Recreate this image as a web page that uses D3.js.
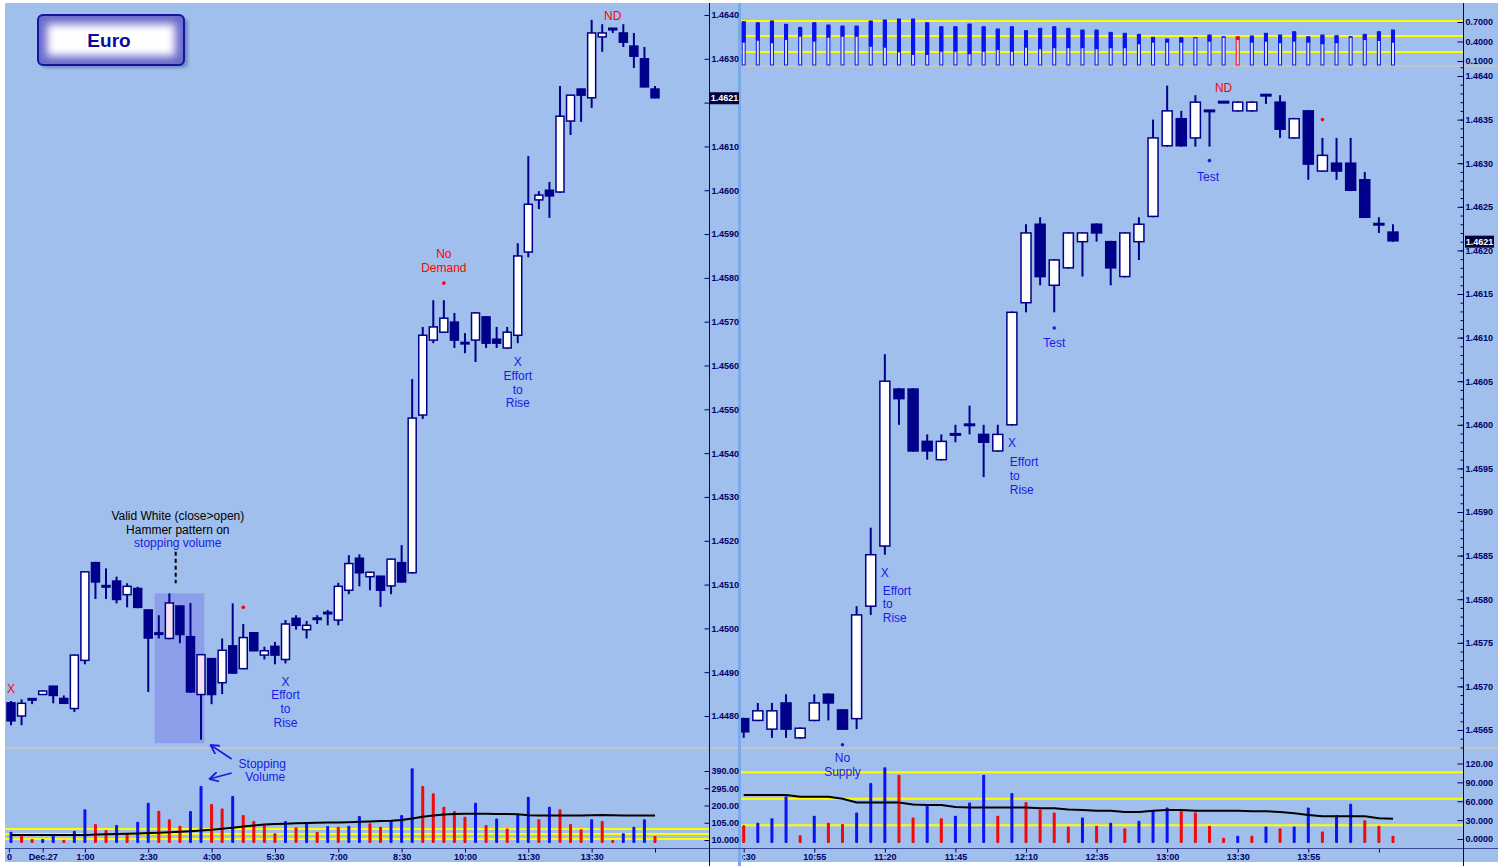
<!DOCTYPE html>
<html><head><meta charset="utf-8">
<script src="https://cdn.jsdelivr.net/npm/d3@7"></script>
<style>
body{margin:0;background:#fff}
svg{display:block}
.ax text{font-family:"Liberation Sans",Arial,sans-serif;font-weight:bold;font-size:9px;fill:#000066}
.ann{font-family:"Liberation Sans",Arial,sans-serif;font-size:12px}
</style></head><body>
<svg id="c" width="1498" height="866"></svg>
<script>
// ---------------- DATA ----------------
// Left panel: 15-minute EUR candles (index 0..61)
const leftOpen  = [1.44830,1.44800,1.44838,1.44849,1.44868,1.44840,1.44817,1.44927,1.45150,1.45096,1.45108,1.45077,1.45091,1.45042,1.44988,1.44977,1.45051,1.44981,1.44849,1.44931,1.44876,1.44960,1.44908,1.44990,1.44939,1.44959,1.44929,1.45023,1.44997,1.45021,1.45034,1.45019,1.45087,1.45160,1.45118,1.45119,1.45097,1.45150,1.45127,1.45487,1.45658,1.45676,1.45699,1.45651,1.45658,1.45711,1.45660,1.45640,1.45669,1.45859,1.45978,1.46000,1.45996,1.46158,1.46231,1.46211,1.46350,1.46368,1.46359,1.46329,1.46300,1.46231];
const leftHigh  = [1.44834,1.44838,1.44840,1.44858,1.44869,1.44847,1.44940,1.45130,1.45152,1.45137,1.45118,1.45103,1.45095,1.45043,1.45030,1.45080,1.45052,1.45058,1.44941,1.44932,1.44977,1.45057,1.45010,1.44991,1.44958,1.44969,1.45019,1.45030,1.45017,1.45030,1.45042,1.45104,1.45167,1.45169,1.45129,1.45120,1.45159,1.45190,1.45569,1.45688,1.45749,1.45749,1.45720,1.45674,1.45722,1.45713,1.45688,1.45688,1.45879,1.46078,1.45998,1.46019,1.46238,1.46218,1.46232,1.46389,1.46379,1.46370,1.46379,1.46359,1.46327,1.46238];
const leftLow   = [1.44779,1.44779,1.44827,1.44848,1.44829,1.44828,1.44809,1.44918,1.45067,1.45067,1.45057,1.45048,1.45046,1.44855,1.44977,1.44975,1.44966,1.44853,1.44746,1.44827,1.44850,1.44897,1.44907,1.44948,1.44929,1.44918,1.44920,1.44997,1.44977,1.45010,1.45007,1.45007,1.45078,1.45096,1.45087,1.45049,1.45078,1.45105,1.45125,1.45478,1.45651,1.45675,1.45640,1.45628,1.45608,1.45640,1.45640,1.45638,1.45651,1.45847,1.45957,1.45937,1.45994,1.46126,1.46156,1.46188,1.46316,1.46359,1.46327,1.46279,1.46235,1.46210];
const leftClose = [1.44789,1.44829,1.44838,1.44857,1.44847,1.44829,1.44939,1.45129,1.45106,1.45094,1.45066,1.45096,1.45048,1.44978,1.44987,1.45058,1.44986,1.44855,1.44940,1.44849,1.44950,1.44898,1.44979,1.44949,1.44949,1.44939,1.45010,1.45007,1.45007,1.45022,1.45035,1.45096,1.45148,1.45127,1.45128,1.45087,1.45158,1.45106,1.45480,1.45669,1.45688,1.45708,1.45658,1.45650,1.45720,1.45651,1.45651,1.45676,1.45850,1.45968,1.45989,1.45987,1.46169,1.46217,1.46217,1.46359,1.46359,1.46368,1.46338,1.46306,1.46236,1.46211];
const leftVolume = [56,34,15,15,34,10,61,179,98,65,92,43,111,215,171,124,89,170,307,208,184,252,148,115,92,47,115,80,102,56,87,83,89,142,102,83,120,148,405,307,267,193,170,138,215,92,129,74,153,248,124,193,179,98,69,124,115,10,47,83,124,32];
const leftVolDir = ["u","d","d","u","u","d","u","u","d","d","u","d","u","u","d","d","d","u","u","d","d","u","d","d","d","d","u","d","u","d","u","d","u","u","d","d","u","u","u","d","d","d","d","d","u","d","u","d","u","u","d","u","d","d","d","u","d","d","u","u","u","d"];
const leftVolAvg = [37,37,37,37,37,37,37,37,40,42,43,44,46,48,50,52,55,58,62,66,72,78,84,90,95,98,100,102,104,105,106,107,108,110,112,114,116,120,128,138,145,150,153,154,154,154,153,153,152,146,145,145,145,145,145,146,148,146,145,145,145,145];
const leftVolLevels = [70,43,15];
const leftPriceTicks = [1.4480,1.4490,1.4500,1.4510,1.4520,1.4530,1.4540,1.4550,1.4560,1.4570,1.4580,1.4590,1.4600,1.4610,1.4620,1.4630,1.4640];
const leftVolTicks = [10,105,200,295,390];
const leftVolTickLabels = ["10.000","105.00","200.00","295.00","390.00"];
const leftTimeTicks  = [-0.2,3,7,13,19,25,31,37,43,49,55,61];
const leftTimeLabels = ["0","Dec.27","1:00","2:30","4:00","5:30","7:00","8:30","10:00","11:30","13:30",""];
const leftHighlight = {from:13.6, to:18.3, top:1.45080, bottom:1.44738};
const lastPrice = 1.4621;

// Right panel: 5-minute EUR candles (index 0..46)
const rightOpen  = [1.45663,1.45661,1.45651,1.45681,1.45641,1.45661,1.45691,1.45673,1.45663,1.45792,1.45861,1.46041,1.46041,1.45981,1.45960,1.45989,1.46000,1.45989,1.45970,1.46000,1.46140,1.46230,1.46160,1.46180,1.46210,1.46230,1.46210,1.46170,1.46210,1.46239,1.46320,1.46351,1.46329,1.46360,1.46370,1.46360,1.46360,1.46378,1.46370,1.46329,1.46360,1.46291,1.46300,1.46300,1.46281,1.46230,1.46221];
const rightHigh  = [1.45664,1.45681,1.45681,1.45691,1.45653,1.45691,1.45692,1.45674,1.45792,1.45882,1.46081,1.46042,1.46042,1.45989,1.45989,1.46000,1.46022,1.46000,1.46000,1.46130,1.46230,1.46238,1.46190,1.46221,1.46221,1.46231,1.46211,1.46221,1.46238,1.46350,1.46389,1.46360,1.46378,1.46361,1.46371,1.46371,1.46371,1.46379,1.46378,1.46352,1.46361,1.46329,1.46329,1.46329,1.46290,1.46238,1.46230];
const rightLow   = [1.45641,1.45660,1.45641,1.45641,1.45640,1.45660,1.45661,1.45650,1.45651,1.45782,1.45851,1.46000,1.45969,1.45960,1.45959,1.45980,1.45989,1.45940,1.45969,1.45999,1.46129,1.46160,1.46129,1.46179,1.46170,1.46210,1.46160,1.46169,1.46189,1.46238,1.46319,1.46319,1.46319,1.46319,1.46369,1.46359,1.46359,1.46368,1.46329,1.46328,1.46281,1.46290,1.46281,1.46268,1.46237,1.46220,1.46210];
const rightClose = [1.45648,1.45672,1.45672,1.45651,1.45652,1.45681,1.45681,1.45651,1.45782,1.45851,1.46050,1.46030,1.45970,1.45970,1.45981,1.45989,1.46000,1.45980,1.45989,1.46129,1.46220,1.46170,1.46189,1.46220,1.46220,1.46220,1.46180,1.46220,1.46230,1.46329,1.46360,1.46320,1.46370,1.46360,1.46370,1.46370,1.46370,1.46378,1.46339,1.46351,1.46299,1.46309,1.46291,1.46269,1.46238,1.46230,1.46211];
const rightVolume = [22,26,33,68,6,37,26,24,42,89,114,102,34,54,33,37,58,102,37,73,59,47,42,20,34,21,26,17,29,45,50,45,42,21,2,5,5,20,17,20,50,12,38,56,30,21,5];
const rightVolDir = ["d","u","u","u","d","u","d","d","u","u","u","d","d","u","d","u","u","u","d","u","d","d","d","d","u","d","u","d","u","u","u","d","d","d","d","u","d","u","d","u","u","d","u","u","d","d","d"];
const rightVolAvg = [70,70,70,70,67,67,67,64,58,58,58,58,55,54,54,51,50,50,50,50,50,49,49,47,46,45,45,43,43,45,46,46,45,45,45,45,44,44,43,41,38,36,36,36,36,33,32];
const rightVolLevels = [106,64,22];
const rightPriceTicks = [1.4565,1.4570,1.4575,1.4580,1.4585,1.4590,1.4595,1.4600,1.4605,1.4610,1.4615,1.4620,1.4625,1.4630,1.4635,1.4640];
const rightVolTicks = [0,30,60,90,120];
const rightVolTickLabels = ["0.0000","30.000","60.000","90.000","120.00"];
const rightTimeTicks  = [0,5,10,15,20,25,30,35,40,45];
const rightTimeLabels = ["10:30","10:55","11:20","11:45","12:10","12:35","13:00","13:30","13:55",""];
// Right top indicator panel
const miniTop  = [0.705,0.689,0.715,0.665,0.618,0.689,0.654,0.638,0.638,0.715,0.731,0.746,0.746,0.689,0.628,0.628,0.669,0.628,0.592,0.628,0.567,0.603,0.628,0.603,0.577,0.577,0.541,0.526,0.510,0.464,0.438,0.459,0.459,0.500,0.474,0.474,0.485,0.526,0.500,0.551,0.474,0.500,0.490,0.474,0.510,0.551,0.577];
const miniMid  = [0.382,0.412,0.372,0.423,0.474,0.397,0.459,0.474,0.474,0.320,0.305,0.234,0.192,0.192,0.243,0.243,0.203,0.243,0.269,0.243,0.305,0.280,0.295,0.295,0.295,0.280,0.295,0.295,0.356,0.382,0.382,0.382,0.449,0.397,0.459,0.423,0.382,0.397,0.372,0.397,0.382,0.356,0.372,0.459,0.423,0.408,0.382];
const miniDir  = miniTop.map((d,i)=> i===35 ? "d" : "u");
const miniLevels = [0.715,0.485,0.24];
const miniTicks = [0.1,0.4,0.7];
const miniTickLabels = ["0.1000","0.4000","0.7000"];

// Annotations (index, price anchor)
const leftNotes = [
  {i:0, p:1.44863, lines:["X"], color:"red"},
  {i:26, p:1.44879, lines:["X","Effort","to","Rise"], color:"blue"},
  {i:41, p:1.45854, lines:["No","Demand"], color:"red"},
  {i:48, p:1.45608, lines:["X","Effort","to","Rise"], color:"blue"},
  {i:57, p:1.46398, lines:["ND"], color:"red"}
];
const leftDots = [{i:22, p:1.45048, color:"red"},{i:41, p:1.45788, color:"red"}];
const rightNotes = [
  {i:7, p:1.45618, lines:["No","Supply"], color:"blue", anchor:"middle"},
  {i:10, p:1.45830, lines:["X"], color:"blue", anchor:"middle"},
  {i:9.85, p:1.45810, lines:["Effort","to","Rise"], color:"blue", anchor:"start"},
  {i:19, p:1.45979, lines:["X"], color:"blue", anchor:"middle"},
  {i:18.85, p:1.45957, lines:["Effort","to","Rise"], color:"blue", anchor:"start"},
  {i:22, p:1.46094, lines:["Test"], color:"blue", anchor:"middle"},
  {i:32.9, p:1.46284, lines:["Test"], color:"blue", anchor:"middle"},
  {i:34, p:1.46387, lines:["ND"], color:"red", anchor:"middle"}
];
const rightDots = [{i:7, p:1.45633, color:"blue"},{i:22, p:1.46111, color:"blue"},{i:33, p:1.46303, color:"blue"},{i:41, p:1.46350, color:"red"}];

// ---------------- DRAW ----------------
const NAVY="#00008A", AXC="#000066", BG="#A0BFEC", VBLUE="#0A14F0", VRED="#F00A0A", ABLUE="#1A1AE6", PINK="#F2E0F2";
const svg = d3.select("#c");
const defs = svg.append("defs");
function clip(id,x,y,w,h){defs.append("clipPath").attr("id",id).append("rect").attr("x",x).attr("y",y).attr("width",w).attr("height",h);}
clip("cL",5,3,704,745); clip("cR",741,66,722,682); clip("cM",741,3,722,63);
clip("cLV",5,749,704,97); clip("cRV",741,749,722,97);
clip("cLX",5,846,704,20); clip("cRX",742,846,721,20);
const blur = defs.append("filter").attr("id","bl").attr("x","-20%").attr("y","-40%").attr("width","140%").attr("height","180%");
blur.append("feGaussianBlur").attr("stdDeviation",4);
const blur2 = defs.append("filter").attr("id","sh").attr("x","-20%").attr("y","-40%").attr("width","140%").attr("height","180%");
blur2.append("feGaussianBlur").attr("stdDeviation",1.5);
const mk = defs.append("marker").attr("id","ar").attr("viewBox","0 0 10 10").attr("refX",9).attr("refY",5)
  .attr("markerWidth",10).attr("markerHeight",10).attr("orient","auto").attr("markerUnits","userSpaceOnUse");
mk.append("path").attr("d","M0,0 L9,5 L0,10").attr("fill","none").attr("stroke",ABLUE).attr("stroke-width",1.8);

svg.append("rect").attr("x",5).attr("y",3).attr("width",1493).attr("height",859).attr("fill",BG);

// scales
const xL = d3.scaleLinear().domain([0,61]).range([11,655]);
const yL = d3.scaleLinear().domain([1.4480,1.4640]).range([716,15]);
const xR = d3.scaleLinear().domain([0,46]).range([743.7,1393]);
const yR = d3.scaleLinear().domain([1.4565,1.4640]).range([730,76]);
const vL = d3.scaleLinear().domain([10,390]).range([840,771]);
const vR = d3.scaleLinear().domain([0,120]).range([839,763.5]);
const mR = d3.scaleLinear().domain([0.1,0.7]).range([61,22]);
const VBASE = 843, MBASE = 65;

// guide lines (yellow)
const gLV = svg.append("g");
gLV.selectAll("line").data(leftVolLevels).join("line").attr("x1",5).attr("x2",709)
  .attr("y1",d=>vL(d)).attr("y2",d=>vL(d)).attr("stroke","#FFFF00").attr("stroke-width",2);
const gRV = svg.append("g");
gRV.selectAll("line").data(rightVolLevels).join("line").attr("x1",741).attr("x2",1463)
  .attr("y1",d=>vR(d)).attr("y2",d=>vR(d)).attr("stroke","#FFFF00").attr("stroke-width",2);
const gM = svg.append("g");
gM.selectAll("line").data(miniLevels).join("line").attr("x1",741).attr("x2",1463)
  .attr("y1",d=>mR(d)).attr("y2",d=>mR(d)).attr("stroke","#FFFF00").attr("stroke-width",2);

// separators
[[5,739,748],[741,1498,748],[741,1498,66]].forEach(s=>svg.append("line").attr("x1",s[0]).attr("x2",s[1]).attr("y1",s[2]).attr("y2",s[2]).attr("stroke","#C4C4C8").attr("stroke-width",2));
svg.append("rect").attr("x",738).attr("y",3).attr("width",3).attr("height",863).attr("fill","#7AAAE8");
svg.append("line").attr("x1",5).attr("x2",1498).attr("y1",848.5).attr("y2",848.5).attr("stroke","#3A4A9A").attr("stroke-width",1);
svg.append("line").attr("x1",709.5).attr("x2",709.5).attr("y1",3).attr("y2",866).attr("stroke",AXC).attr("stroke-width",1);
svg.append("line").attr("x1",1463.5).attr("x2",1463.5).attr("y1",3).attr("y2",866).attr("stroke",AXC).attr("stroke-width",1);

// highlight region
const gL = svg.append("g").attr("clip-path","url(#cL)");
gL.append("rect").attr("x",xL(leftHighlight.from)).attr("width",xL(leftHighlight.to)-xL(leftHighlight.from))
  .attr("y",yL(leftHighlight.top)).attr("height",yL(leftHighlight.bottom)-yL(leftHighlight.top)).attr("fill","#8C9EEA");

function drawCandles(g,O,H,L,C,x,y,bw,pinkFn){
  const data = O.map((o,i)=>({i,o,h:H[i],l:L[i],c:C[i]}));
  g.selectAll("line.wick").data(data).join("line").attr("class","wick")
    .attr("x1",d=>x(d.i)).attr("x2",d=>x(d.i)).attr("y1",d=>y(d.h)).attr("y2",d=>y(d.l))
    .attr("stroke",NAVY).attr("stroke-width",2);
  g.selectAll("rect.body").data(data).join("rect").attr("class","body")
    .attr("x",d=>x(d.i)-bw/2).attr("width",bw)
    .attr("y",d=>{const h=Math.abs(y(d.o)-y(d.c)); return h<2? y(Math.max(d.o,d.c))-0.75 : y(Math.max(d.o,d.c));})
    .attr("height",d=>Math.max(1.5,Math.abs(y(d.o)-y(d.c))))
    .attr("fill",d=>{const h=Math.abs(y(d.o)-y(d.c)); if(h<2) return NAVY; return d.c>d.o ? (pinkFn(d.i)?PINK:"#FFFFFF") : NAVY;})
    .attr("stroke",NAVY).attr("stroke-width",1.5);
}
drawCandles(gL.append("g"),leftOpen,leftHigh,leftLow,leftClose,xL,yL,8,i=>i>=leftHighlight.from&&i<=leftHighlight.to);
const gR = svg.append("g").attr("clip-path","url(#cR)");
drawCandles(gR.append("g"),rightOpen,rightHigh,rightLow,rightClose,xR,yR,10,()=>false);

// volume bars
function drawVol(g,V,D,A,x,v){
  g.selectAll("rect").data(V).join("rect").attr("x",(d,i)=>x(i)-1.5).attr("width",3)
    .attr("y",d=>v(d)).attr("height",d=>Math.max(1,VBASE-v(d))).attr("rx",1)
    .attr("fill",(d,i)=>D[i]==="u"?VBLUE:VRED);
  g.append("path").datum(A).attr("d",d3.line().x((d,i)=>x(i)).y(d=>v(d)))
    .attr("fill","none").attr("stroke","#000").attr("stroke-width",2);
}
drawVol(svg.append("g").attr("clip-path","url(#cLV)"),leftVolume,leftVolDir,leftVolAvg,xL,vL);
drawVol(svg.append("g").attr("clip-path","url(#cRV)"),rightVolume,rightVolDir,rightVolAvg,xR,vR);

// mini indicator bars
const gMB = svg.append("g").attr("clip-path","url(#cM)");
gMB.selectAll("rect.h").data(miniTop).join("rect").attr("class","h")
  .attr("x",(d,i)=>xR(i)-1.5).attr("width",3).attr("y",d=>mR(d)).attr("height",d=>MBASE-mR(d))
  .attr("fill","#D6E2FA").attr("stroke",(d,i)=>miniDir[i]==="u"?VBLUE:VRED).attr("stroke-width",1);
gMB.selectAll("rect.s").data(miniTop).join("rect").attr("class","s")
  .attr("x",(d,i)=>xR(i)-2).attr("width",4).attr("y",d=>mR(d)).attr("height",(d,i)=>Math.max(0,mR(miniMid[i])-mR(d)))
  .attr("rx",1).attr("fill",(d,i)=>miniDir[i]==="u"?VBLUE:VRED);

// axes
function styleAxis(g){g.attr("class","ax"); g.select(".domain").remove(); g.selectAll(".tick line").attr("stroke",AXC); return g;}
const fmt4 = d3.format(".4f");
styleAxis(svg.append("g").attr("transform","translate(709.5,0)")
  .call(d3.axisRight(yL).tickValues(leftPriceTicks).tickFormat(d=>Math.abs(d-1.4620)<1e-6?"":fmt4(d)).tickSizeInner(-5).tickSizeOuter(0).tickPadding(2)));
styleAxis(svg.append("g").attr("transform","translate(1463.5,0)")
  .call(d3.axisRight(yR).tickValues(d3.range(1.4563,1.46415,0.0001)).tickFormat("").tickSizeInner(-3).tickSizeOuter(0)));
styleAxis(svg.append("g").attr("transform","translate(1463.5,0)")
  .call(d3.axisRight(yR).tickValues(rightPriceTicks).tickFormat(fmt4).tickSizeInner(-6).tickSizeOuter(0).tickPadding(2)));
styleAxis(svg.append("g").attr("transform","translate(709.5,0)")
  .call(d3.axisRight(vL).tickValues(leftVolTicks).tickFormat((d,i)=>leftVolTickLabels[i]).tickSizeInner(-5).tickSizeOuter(0).tickPadding(2)));
styleAxis(svg.append("g").attr("transform","translate(1463.5,0)")
  .call(d3.axisRight(vR).tickValues(rightVolTicks).tickFormat((d,i)=>rightVolTickLabels[i]).tickSizeInner(-6).tickSizeOuter(0).tickPadding(2)));
styleAxis(svg.append("g").attr("transform","translate(1463.5,0)")
  .call(d3.axisRight(mR).tickValues(miniTicks).tickFormat((d,i)=>miniTickLabels[i]).tickSizeInner(-6).tickSizeOuter(0).tickPadding(2)));
styleAxis(svg.append("g").attr("clip-path","url(#cLX)").append("g").attr("transform","translate(0,848.5)")
  .call(d3.axisBottom(xL).tickValues(leftTimeTicks).tickFormat((d,i)=>leftTimeLabels[i]).tickSizeInner(4).tickSizeOuter(0).tickPadding(1)));
styleAxis(svg.append("g").attr("clip-path","url(#cRX)").append("g").attr("transform","translate(0,848.5)")
  .call(d3.axisBottom(xR).tickValues(rightTimeTicks).tickFormat((d,i)=>rightTimeLabels[i]).tickSizeInner(4).tickSizeOuter(0).tickPadding(1)));

// last price boxes
function priceBox(x,y,p){
  const g = svg.append("g").attr("class","ax");
  g.append("rect").attr("x",x).attr("y",y(p)-6).attr("width",29).attr("height",12).attr("fill","#00003C");
  g.append("text").attr("x",x+14.5).attr("y",y(p)).attr("dy","0.35em").attr("text-anchor","middle").style("fill","#fff").text(fmt4(p));
}
priceBox(710,yL,lastPrice);
priceBox(1465,yR,lastPrice);

// annotations
const colorOf = c=> c==="red" ? "#FF0000" : ABLUE;
function notes(list,x,y){
  const g = svg.append("g");
  list.forEach(n=>{
    n.lines.forEach((t,k)=>{
      g.append("text").attr("class","ann").attr("x",x(n.i)).attr("y",y(n.p)+k*13.7).attr("dy","0.35em")
        .attr("text-anchor",n.anchor||"middle").attr("fill",colorOf(n.color)).text(t);
    });
  });
}
function dots(list,x,y){
  svg.append("g").selectAll("circle").data(list).join("circle").attr("cx",d=>x(d.i)).attr("cy",d=>y(d.p)).attr("r",1.8)
    .attr("fill",d=>colorOf(d.color));
}
notes(leftNotes,xL,yL); dots(leftDots,xL,yL);
notes(rightNotes,xR,yR); dots(rightDots,xR,yR);

// hammer note
const hx = xL(15.8), hy = yL(1.45256);
const hn = svg.append("g").attr("class","ann").attr("text-anchor","middle");
hn.append("text").attr("x",hx).attr("y",hy).attr("dy","0.35em").attr("fill","#000").text("Valid White (close>open)");
hn.append("text").attr("x",hx).attr("y",hy+13.5).attr("dy","0.35em").attr("fill","#000").text("Hammer pattern on");
hn.append("text").attr("x",hx).attr("y",hy+27).attr("dy","0.35em").attr("fill",ABLUE).text("stopping volume");
svg.append("line").attr("x1",xL(15.6)).attr("x2",xL(15.6)).attr("y1",yL(1.45175)).attr("y2",yL(1.45103))
  .attr("stroke","#000").attr("stroke-width",2).attr("stroke-dasharray","4,3");

// stopping volume arrows + text
const sx = xL(23.8);
svg.append("line").attr("x1",xL(20.9)).attr("y1",759).attr("x2",xL(18.9)).attr("y2",745).attr("stroke",ABLUE).attr("stroke-width",1.6).attr("marker-end","url(#ar)");
svg.append("line").attr("x1",xL(20.9)).attr("y1",773).attr("x2",xL(18.8)).attr("y2",779).attr("stroke",ABLUE).attr("stroke-width",1.6).attr("marker-end","url(#ar)");
svg.append("text").attr("class","ann").attr("x",sx).attr("y",vL(432)).attr("dy","0.35em").attr("text-anchor","middle").attr("fill",ABLUE).text("Stopping");
svg.append("text").attr("class","ann").attr("x",sx+3).attr("y",vL(432)+13.5).attr("dy","0.35em").attr("text-anchor","middle").attr("fill",ABLUE).text("Volume");

// Euro title box
const eb = svg.append("g");
eb.append("rect").attr("x",41).attr("y",18).attr("width",147).attr("height",50).attr("rx",5).attr("fill","#5F76AE").attr("opacity",0.7).attr("filter","url(#sh)");
eb.append("rect").attr("x",38).attr("y",15).attr("width",146).attr("height",50).attr("rx",5).attr("fill","#6A6ACC");
eb.append("rect").attr("x",47).attr("y",24).attr("width",128).attr("height",32).attr("fill","#FFFFFF").attr("filter","url(#bl)");
eb.append("rect").attr("x",38).attr("y",15).attr("width",146).attr("height",50).attr("rx",5).attr("fill","none").attr("stroke","#1414A0").attr("stroke-width",2);
eb.append("text").attr("x",109).attr("y",40).attr("dy","0.35em").attr("text-anchor","middle")
  .style("font-family","'Liberation Sans',Arial,sans-serif").style("font-weight","bold").style("font-size","19px").attr("fill","#0A0AA0").text("Euro");
</script>
</body></html>
